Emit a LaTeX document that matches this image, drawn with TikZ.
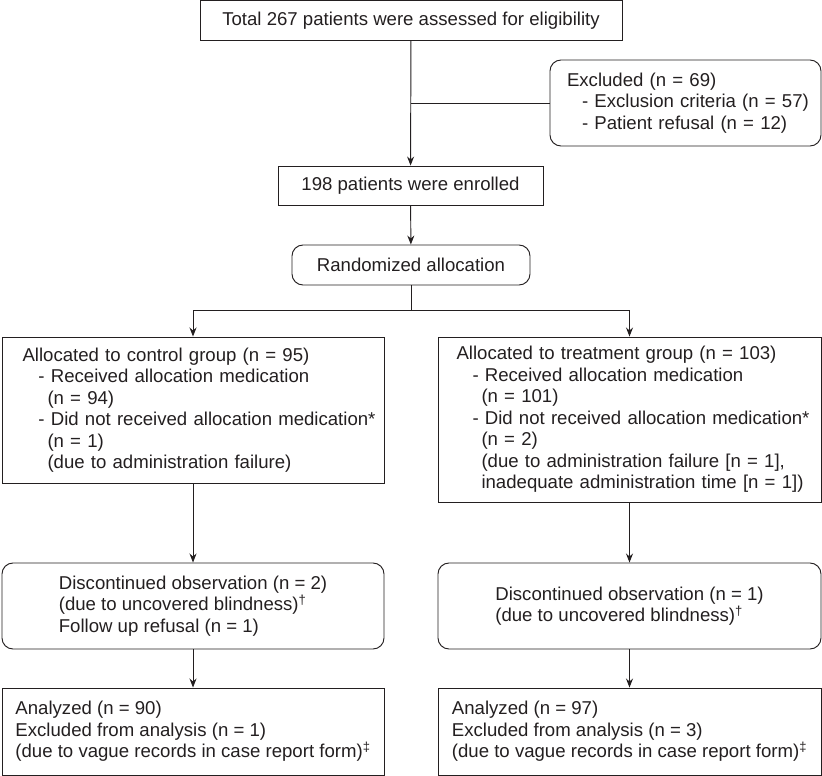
\documentclass[tikz,border=0pt]{standalone}
\usepackage{fontspec}
\setmainfont{Liberation Sans}
\usetikzlibrary{arrows.meta}
\definecolor{inkc}{RGB}{35,31,32}
\newcommand{\nobrk}[2][0]{\mbox{\hspace*{#1pt}#2}}

\begin{document}
\begin{tikzpicture}[x=1pt,y=1pt,yscale=-1,xscale=1,
  every node/.style={font=\fontsize{18.6}{21.5}\selectfont, text=inkc},
  sqbox/.style={draw=inkc, line width=0.95, inner sep=0pt},
  rdbox/.style={sqbox, rounded corners=11},
  flow/.style={draw=inkc, line width=0.95, -{Stealth[length=9,width=7]}},
  link/.style={draw=inkc, line width=0.95},
  ]
\useasboundingbox (0,0) rectangle (822,776);
%Shape: Rectangle [total]
\node [sqbox, minimum width=422, minimum height=40] (total) at (411,20.5) {Total 267 patients were assessed for eligibility};
%Shape: Rounded Rect [excluded]
\node [rdbox, minimum width=271, minimum height=86, text width=237, align=left] (excl) at (685.5,103) {\nobrk{Excluded (n = 69)}\\
  \nobrk[15]{- Exclusion criteria (n = 57)}\\
  \nobrk[15]{- Patient refusal (n = 12)}};
%Shape: Rectangle [enrolled]
\node [sqbox, minimum width=265, minimum height=39] (enrol) at (410.5,185.5) {198 patients were enrolled};
%Shape: Rounded Rect [randomized]
\node [rdbox, minimum width=238, minimum height=40] (rand) at (411,265) {Randomized allocation};
%Shape: Rectangle [control]
\node [sqbox, minimum width=382, minimum height=146, text width=341, align=left] (ctrl) at (193,410) {\nobrk{Allocated to control group (n = 95)}\\
  \nobrk[16]{- Received allocation medication}\\
  \nobrk[25]{(n = 94)}\\
  \nobrk[16]{- Did not received allocation medication*}\\
  \nobrk[25]{(n = 1)}\\
  \nobrk[25]{(due to administration failure)}};
%Shape: Rectangle [treatment]
\node [sqbox, minimum width=383, minimum height=165, text width=346, align=left] (treat) at (629.5,419.5) {\nobrk{Allocated to treatment group (n = 103)}\\
  \nobrk[16]{- Received allocation medication}\\
  \nobrk[25]{(n = 101)}\\
  \nobrk[16]{- Did not received allocation medication*}\\
  \nobrk[25]{(n = 2)}\\
  \nobrk[25]{(due to administration failure [n = 1],}\\
  \nobrk[25]{inadequate administration time [n = 1])}};
%Shape: Rounded Rect [discontinued, control]
\node [rdbox, minimum width=382, minimum height=86, align=left] (discA) at (193,606) {Discontinued observation (n = 2)\\
  (due to uncovered blindness)\textsuperscript{†}\\
  Follow up refusal (n = 1)};
%Shape: Rounded Rect [discontinued, treatment]
\node [rdbox, minimum width=383, minimum height=86, align=left] (discB) at (629.5,606) {Discontinued observation (n = 1)\\
  (due to uncovered blindness)\textsuperscript{†}};
%Shape: Rectangle [analyzed, control]
\node [sqbox, minimum width=382, minimum height=87, align=left] (analA) at (193,731.5) {Analyzed (n = 90)\\
  Excluded from analysis (n = 1)\\
  (due to vague records in case report form)\textsuperscript{‡}};
%Shape: Rectangle [analyzed, treatment]
\node [sqbox, minimum width=383, minimum height=87, align=left] (analB) at (629.5,731.5) {Analyzed (n = 97)\\
  Excluded from analysis (n = 3)\\
  (due to vague records in case report form)\textsuperscript{‡}};
\coordinate (split) at (411,310);
%Straight Lines
\draw [flow] (total) -- (enrol);
\draw [link] (excl.west) -- (excl.west -| total.south);
\draw [flow] (enrol) -- (rand);
\draw [link] (rand) -- (split);
\draw [flow] (split) -| (ctrl.north);
\draw [flow] (split) -| (treat.north);
\draw [flow] (ctrl) -- (discA);
\draw [flow] (treat) -- (discB);
\draw [flow] (discA) -- (analA);
\draw [flow] (discB) -- (analB);
\end{tikzpicture}
\end{document}
